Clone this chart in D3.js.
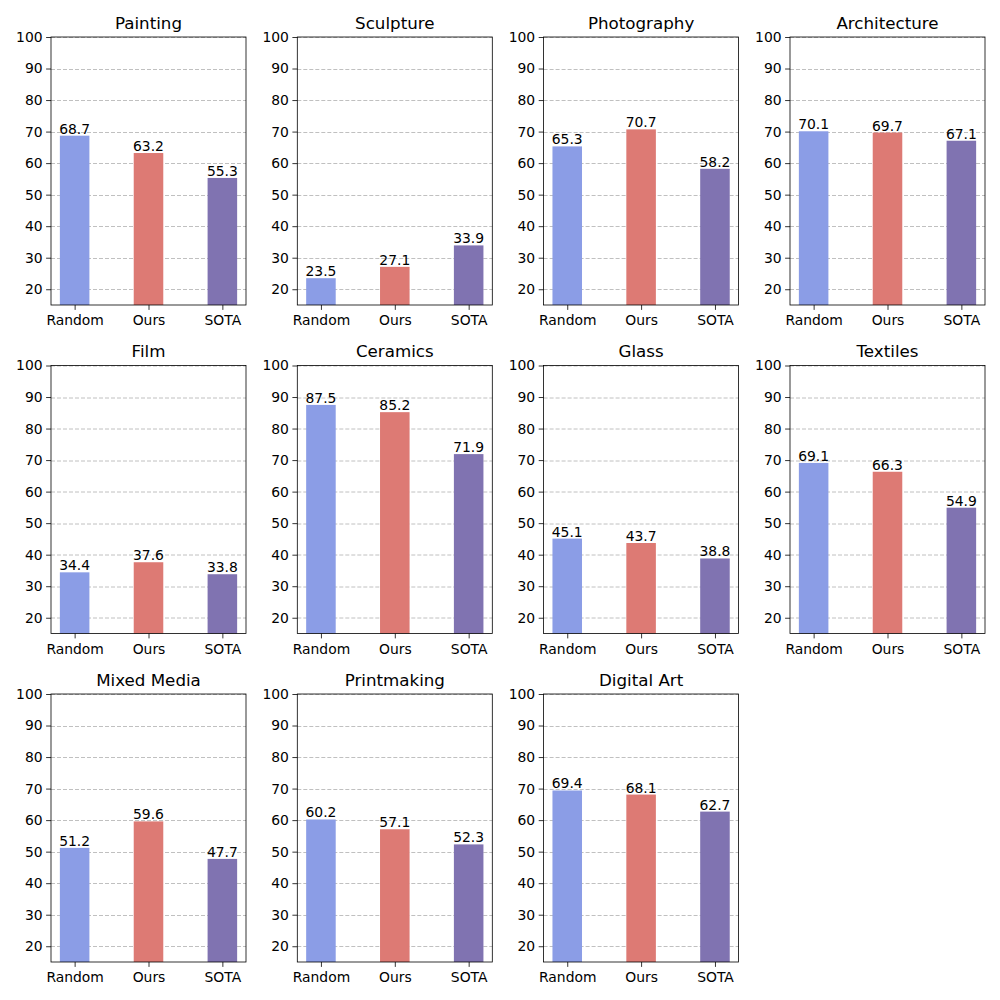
<!DOCTYPE html>
<html><head><meta charset="utf-8">
<script src="https://cdn.jsdelivr.net/npm/d3@7"></script>
<style>body{margin:0;background:#fff}svg{display:block}text{font-family:"DejaVu Sans",sans-serif;fill:#000}</style>
</head><body>
<svg id="c" width="1000" height="1000"></svg>
<script>
const panels = ["Painting","Sculpture","Photography","Architecture","Film","Ceramics","Glass","Textiles","Mixed Media","Printmaking","Digital Art"];
const methods = ["Random","Ours","SOTA"];
const randomVals = [68.7,23.5,65.3,70.1,34.4,87.5,45.1,69.1,51.2,60.2,69.4];
const oursVals   = [63.2,27.1,70.7,69.7,37.6,85.2,43.7,66.3,59.6,57.1,68.1];
const sotaVals   = [55.3,33.9,58.2,67.1,33.8,71.9,38.8,54.9,47.7,52.3,62.7];
const yTicks = [20,30,40,50,60,70,80,90,100];
const colors = ["#8b9de6","#dd7a74","#8073b1"];

const svg = d3.select("#c");
const colX = [51, 297.3, 543.6, 790];
const rowY = [37, 365.5, 694];
const W = 195, H = 268;

panels.forEach((name,i)=>{
  const vals = [randomVals[i], oursVals[i], sotaVals[i]];
  const g = svg.append("g").attr("transform",`translate(${colX[i%4]},${rowY[Math.floor(i/4)]})`);
  const x = d3.scaleLinear().domain([-0.32,2.32]).range([0,W]);
  const y = d3.scaleLinear().domain([15,100]).range([H,0]);
  g.selectAll("line.grid").data(yTicks).join("line")
    .attr("x1",0).attr("x2",W).attr("y1",d=>Math.round(y(d))+0.5).attr("y2",d=>Math.round(y(d))+0.5)
    .attr("stroke","#b0b0b0").attr("stroke-width",0.8).attr("stroke-dasharray","4,2");
  g.selectAll("rect").data(vals).join("rect")
    .attr("x",(d,j)=>x(j-0.2)).attr("width",x(0.4)-x(0))
    .attr("y",d=>y(d)).attr("height",d=>y(15)-y(d))
    .attr("fill",(d,j)=>colors[j]);
  g.selectAll("text.val").data(vals).join("text").attr("class","val")
    .attr("x",(d,j)=>x(j)).attr("y",d=>y(d)-2)
    .attr("text-anchor","middle").style("font-size","13.9px")
    .text(d=>d.toFixed(1));
  const ya = d3.axisLeft(y).tickValues(yTicks).tickSize(4.9).tickPadding(3.5).tickFormat(d3.format("d"));
  const yg = g.append("g").call(ya);
  const xa = d3.axisBottom(x).tickValues([0,1,2]).tickSize(4.9).tickPadding(5.5).tickFormat(j=>methods[j]);
  const xg = g.append("g").attr("transform",`translate(0,${H})`).call(xa);
  [yg,xg].forEach(a=>{a.select(".domain").remove();
    a.selectAll("text").style("font-size","13.9px").style("font-family","DejaVu Sans");
    a.selectAll("line").attr("stroke","#000").attr("stroke-width",0.8);});
  g.append("rect").attr("x",0).attr("y",0).attr("width",W).attr("height",H)
    .attr("fill","none").attr("stroke","#000").attr("stroke-width",0.8);
  g.append("text").attr("x",W/2).attr("y",-8.5).attr("text-anchor","middle")
    .style("font-size","16.7px").text(name);
});
</script>
</body></html>
